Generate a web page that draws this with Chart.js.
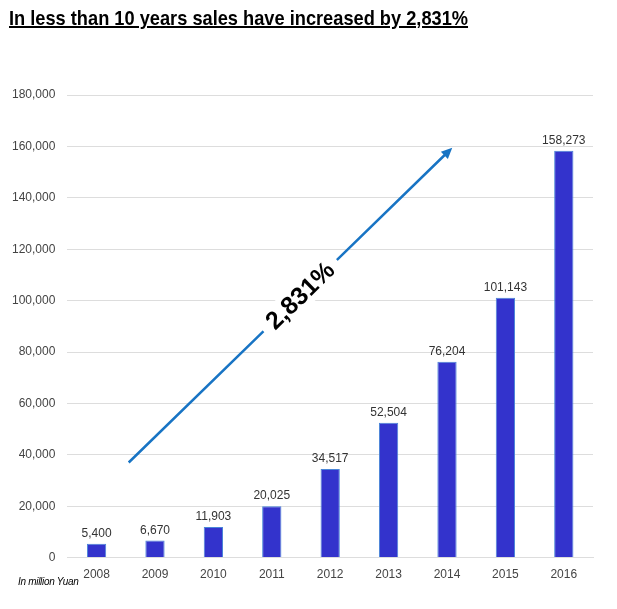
<!DOCTYPE html>
<html lang="en">
<head>
    <meta charset="UTF-8">
    <title>Sales growth</title>
    <style>
        body {
            margin: 0;
            background-color: #fff;
            font-family: "Liberation Sans", Arial, sans-serif;
        }
        .wrap {
            position: relative;
            width: 617px;
            height: 609px;
        }
        .title {
            position: absolute;
            left: 9px;
            top: 6px;
            font-size: 21px;
            font-weight: bold;
            text-decoration: underline;
            text-decoration-thickness: 2px;
            color: #000;
            white-space: nowrap;
            transform: scaleX(0.868);
            transform-origin: left top;
        }
        .note {
            position: absolute;
            left: 18px;
            top: 576px;
            font-size: 10px;
            font-style: italic;
            letter-spacing: -0.3px;
            color: #000;
        }
        canvas {
            position: absolute;
            left: 0;
            top: 0;
        }
    </style>
</head>
<body>
    <div class="wrap">
        <canvas id="salesChart" width="617" height="609"></canvas>
        <div class="title">In less than 10 years sales have increased by 2,831%</div>
        <div class="note">In million Yuan</div>
    </div>
    <script src="https://cdn.jsdelivr.net/npm/chart.js"></script>
    <script>
        const years = ['2008', '2009', '2010', '2011', '2012', '2013', '2014', '2015', '2016'];
        const sales = [5400, 6670, 11903, 20025, 34517, 52504, 76204, 101143, 158273];
        const yTicks = [0, 20000, 40000, 60000, 80000, 100000, 120000, 140000, 160000, 180000];
        // arrow start/end in data units (category index, value)
        const arrowFrom = [0.55, 37000];
        const arrowTo = [6.09, 159500];
        const arrowLabel = '2,831%';

        const fmt = v => v.toLocaleString('en-US');

        const valueLabels = {
            id: 'valueLabels',
            afterDatasetsDraw(chart) {
                const ctx = chart.ctx;
                const meta = chart.getDatasetMeta(0);
                ctx.save();
                ctx.font = '12px "Liberation Sans", Arial, sans-serif';
                ctx.fillStyle = '#333';
                ctx.textAlign = 'center';
                ctx.textBaseline = 'bottom';
                meta.data.forEach((bar, i) => {
                    ctx.fillText(fmt(sales[i]), bar.x, bar.y - 4);
                });
                ctx.restore();
            }
        };

        const growthArrow = {
            id: 'growthArrow',
            afterDatasetsDraw(chart) {
                const xs = chart.scales.x, ys = chart.scales.y;
                const x1 = xs.getPixelForValue(arrowFrom[0]), y1 = ys.getPixelForValue(arrowFrom[1]);
                const x2 = xs.getPixelForValue(arrowTo[0]), y2 = ys.getPixelForValue(arrowTo[1]);
                const ang = Math.atan2(y2 - y1, x2 - x1);
                const len = Math.hypot(x2 - x1, y2 - y1);
                const ctx = chart.ctx;
                ctx.save();
                ctx.translate(x1, y1);
                ctx.rotate(ang);
                ctx.strokeStyle = '#1874c4';
                ctx.fillStyle = '#1874c4';
                ctx.lineWidth = 2.5;
                const mid = len * 0.53;
                const gap = 51;
                ctx.beginPath();
                ctx.moveTo(0, 0);
                ctx.lineTo(mid - gap, 0);
                ctx.moveTo(mid + gap, 0);
                ctx.lineTo(len - 8, 0);
                ctx.stroke();
                ctx.beginPath();
                ctx.moveTo(len, 0);
                ctx.lineTo(len - 11, -5);
                ctx.lineTo(len - 11, 5);
                ctx.closePath();
                ctx.fill();
                ctx.fillStyle = '#fff';
                ctx.fillRect(mid - gap, -14, gap * 2, 28);
                ctx.fillStyle = '#000';
                ctx.font = 'bold 25px "Liberation Sans", Arial, sans-serif';
                ctx.textAlign = 'center';
                ctx.textBaseline = 'middle';
                ctx.fillText(arrowLabel, mid, 1);
                ctx.restore();
            }
        };

        new Chart(document.getElementById('salesChart'), {
            type: 'bar',
            data: {
                labels: years,
                datasets: [{
                    data: sales,
                    backgroundColor: '#3333cc',
                    borderColor: '#4a86d8',
                    borderWidth: 1,
                    barPercentage: 0.33,
                    categoryPercentage: 1
                }]
            },
            options: {
                responsive: false,
                animation: false,
                layout: { padding: { top: 95, right: 24, left: 0, bottom: 25 } },
                plugins: {
                    legend: { display: false },
                    tooltip: { enabled: false }
                },
                scales: {
                    x: {
                        grid: { display: false },
                        border: { color: '#ddd' },
                        ticks: {
                            color: '#444',
                            font: { size: 12, family: '"Liberation Sans", Arial, sans-serif' },
                            padding: 2
                        }
                    },
                    y: {
                        min: 0,
                        max: 180000,
                        afterBuildTicks: axis => { axis.ticks = yTicks.map(v => ({ value: v })); },
                        grid: { color: '#ddd', drawTicks: false },
                        border: { display: false },
                        ticks: {
                            color: '#444',
                            font: { size: 12, family: '"Liberation Sans", Arial, sans-serif' },
                            padding: 12,
                            callback: v => fmt(v)
                        }
                    }
                }
            },
            plugins: [valueLabels, growthArrow]
        });
    </script>
</body>
</html>
